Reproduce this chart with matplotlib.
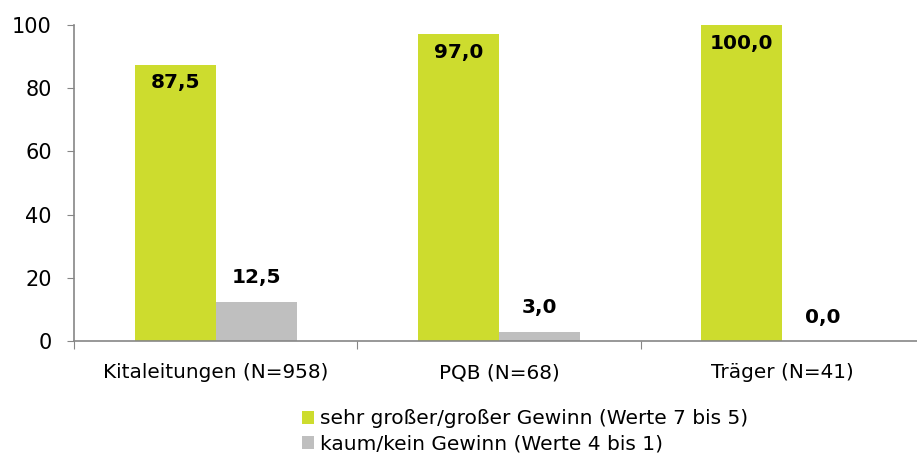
import numpy as np
import matplotlib.pyplot as plt

categories = ["Kitaleitungen (N=958)", "PQB (N=68)", "Träger (N=41)"]
gewinn_hoch = [87.5, 97.0, 100.0]
gewinn_kaum = [12.5, 3.0, 0.0]
series_labels = ["sehr großer/großer Gewinn (Werte 7 bis 5)",
                 "kaum/kein Gewinn (Werte 4 bis 1)"]

green = "#cddc2e"
grey = "#bfbfbf"
axis_col = "#868686"

plt.rcParams['font.family'] = ['DejaVu Sans']

fig = plt.figure(figsize=(9.17, 4.57), dpi=100)
# axes runs a bit past the right edge, as in the original
ax = fig.add_axes([74 / 917, 1 - 341 / 457, 850 / 917, 316 / 457])

x = np.arange(len(categories))
w = 0.286
b1 = ax.bar(x - w / 2, gewinn_hoch, w, color=green, label=series_labels[0])
b2 = ax.bar(x + w / 2, gewinn_kaum, w, color=grey, label=series_labels[1])

for rect, v in zip(b1, gewinn_hoch):
    ax.annotate(f"{v:.1f}".replace(".", ","),
                (rect.get_x() + rect.get_width() / 2, v),
                xytext=(0, -18), textcoords="offset pixels",
                ha="center", va="center", fontsize=14.5, fontweight="bold")
for rect, v in zip(b2, gewinn_kaum):
    ax.annotate(f"{v:.1f}".replace(".", ","),
                (rect.get_x() + rect.get_width() / 2, v),
                xytext=(0, 24), textcoords="offset pixels",
                ha="center", va="center", fontsize=14.5, fontweight="bold")

ax.set_xlim(-0.5, 2.5)
ax.set_ylim(0, 100)
ax.set_yticks(np.arange(0, 101, 20))
ax.tick_params(axis="y", labelsize=15, length=5, color=axis_col, pad=11)

# category dividers as ticks, labels at centres
ax.set_xticks(np.arange(-0.5, 3, 1))
ax.set_xticklabels([])
ax.set_xticks(x, minor=True)
ax.set_xticklabels(categories, minor=True)
ax.tick_params(axis="x", which="major", length=6, color=axis_col)
ax.tick_params(axis="x", which="minor", length=0, labelsize=14.4, pad=16)

for s in ["top", "right"]:
    ax.spines[s].set_visible(False)
for s in ["left", "bottom"]:
    ax.spines[s].set_color(axis_col)
    ax.spines[s].set_linewidth(1.2)

fig.legend(loc="upper left", bbox_to_anchor=(0.329, 0.104), frameon=False,
           fontsize=14.5, handlelength=0.6, handleheight=0.6, handletextpad=0.3,
           labelspacing=0.3, borderaxespad=0, borderpad=0)

fig.savefig("out.png", dpi=100)
